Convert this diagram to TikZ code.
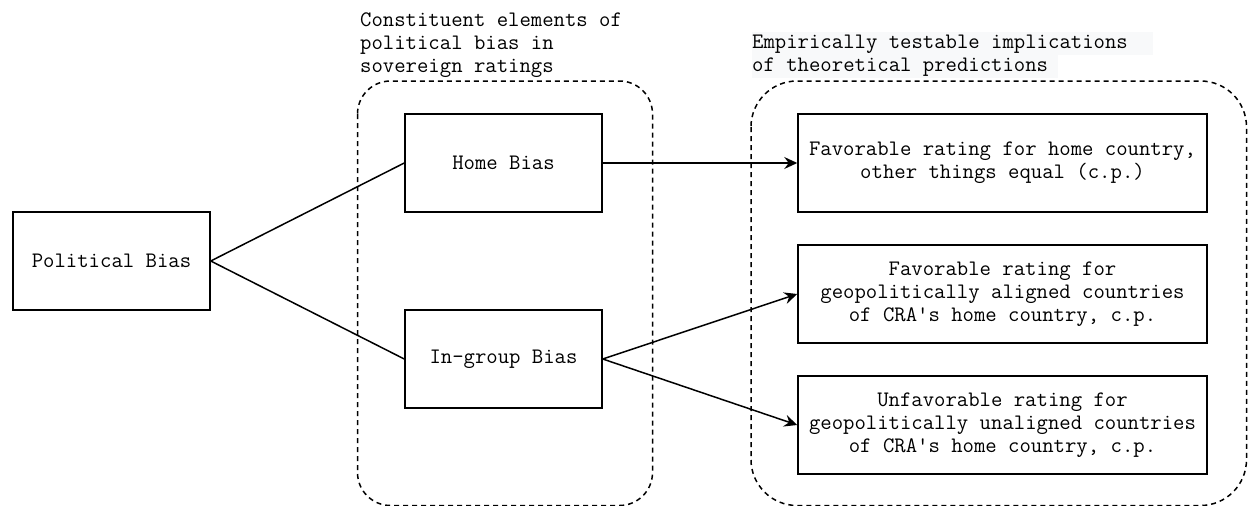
\documentclass[tikz,border=0pt]{standalone}
\usepackage{fontspec}
\usetikzlibrary{arrows.meta}
\definecolor{labelbg}{HTML}{F8F9FA}
\begin{document}
\begin{tikzpicture}[x=1pt,y=-1pt,
  every node/.style={font=\ttfamily\fontsize{22.1}{23.2}\selectfont, inner sep=0pt},
  box/.style={draw, line width=1.5pt, align=center, minimum height=98pt},
  group/.style={draw, line width=1.5pt, dash pattern=on 5pt off 4pt},
  link/.style={line width=1.5pt},
  arr/.style={line width=1.5pt, -{Stealth[length=13pt,width=12pt,inset=4.5pt]}}
]
\useasboundingbox (0,0) rectangle (1248,506);
% containers
\draw[group, rounded corners=33pt] (357.5,81) rectangle (652.5,505.5);
\draw[group, rounded corners=46pt] (751,81) rectangle (1246.5,505.5);
% labels
\node[anchor=base west, align=left] (lab1) at (360,26) {Constituent elements of};
\node[anchor=base west, align=left] (lab2) at (360,49) {political bias in};
\node[anchor=base west, align=left] (lab3) at (360,72) {sovereign ratings};
\fill[labelbg] (752,32) rectangle (1153,55);
\fill[labelbg] (752,55) rectangle (1058,77.5);
\node[anchor=base west] (rl1) at (752,48.5) {Empirically testable implications };
\node[anchor=base west] (rl2) at (752,71.5) {of theoretical predictions};
% nodes
\node[box, minimum width=197pt] (pol) at (111.5,261) {Political Bias};
\node[box, minimum width=197pt] (home) at (503.5,163) {Home Bias};
\node[box, minimum width=197pt] (ingroup) at (503.5,359) {In-group Bias};
\node[box, minimum width=409pt] (r1) at (1002.5,163) {Favorable rating for home country,\\other things equal (c.p.)};
\node[box, minimum width=409pt] (r2) at (1002.5,294) {Favorable rating for\\geopolitically aligned countries\\of CRA's home country, c.p.};
\node[box, minimum width=409pt] (r3) at (1002.5,425) {Unfavorable rating for\\geopolitically unaligned countries\\of CRA's home country, c.p.};
% connectors
\draw[link] (pol.east) -- (home.west);
\draw[link] (pol.east) -- (ingroup.west);
\draw[arr] (home.east) -- (r1.west);
\draw[arr] (ingroup.east) -- (r2.west);
\draw[arr] (ingroup.east) -- (r3.west);
\end{tikzpicture}
\end{document}
